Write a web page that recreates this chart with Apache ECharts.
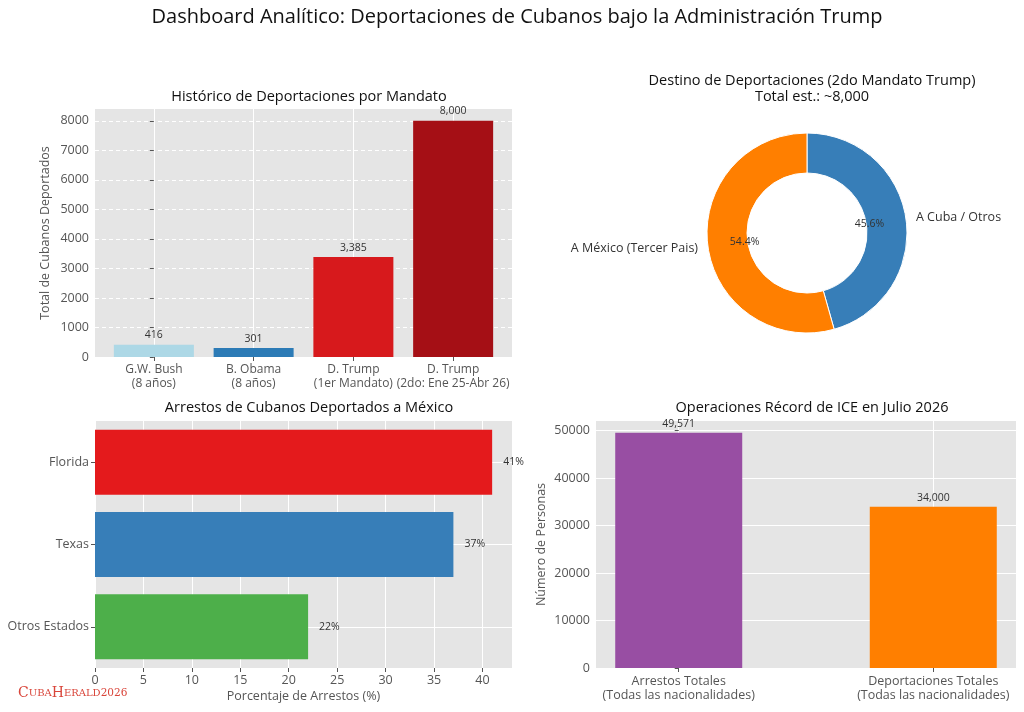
<!DOCTYPE html>
<html>
<head>
<meta charset="utf-8">
<script src="https://cdn.jsdelivr.net/npm/echarts@6/dist/echarts.min.js"></script>
<style>
  html, body { margin: 0; padding: 0; background: #fff; }
  #main { width: 1024px; height: 712px; }
</style>
</head>
<body>
<div id="main"></div>
<script>
// historico por mandato
var periodos = ['G.W. Bush\n(8 años)', 'B. Obama\n(8 años)', 'D. Trump\n(1er Mandato)', 'D. Trump\n(2do: Ene 25-Abr 26)'];
var deportados = [416, 301, 3385, 8000];
var coloresPeriodo = ['#add8e6', '#2c7bb6', '#d7191c', '#a50f15'];
var ticksDeportados = [0, 1000, 2000, 3000, 4000, 5000, 6000, 7000, 8000];

// destino 2do mandato
var destinos = ['A Cuba / Otros', 'A México (Tercer Pais)'];
var destinoValores = [3650, 4350];
var coloresDestino = ['#377eb8', '#ff7f00'];

// arrestos por estado
var estados = ['Florida', 'Texas', 'Otros Estados'];
var arrestosPct = [41, 37, 22];
var coloresEstado = ['#e41a1c', '#377eb8', '#4daf4a'];
var ticksPct = [0, 5, 10, 15, 20, 25, 30, 35, 40];

// operaciones ICE julio 2026
var operaciones = ['Arrestos Totales\n(Todas las nacionalidades)', 'Deportaciones Totales\n(Todas las nacionalidades)'];
var operacionValores = [49571, 34000];
var coloresOperacion = ['#984ea3', '#ff7f00'];
var ticksPersonas = [0, 10000, 20000, 30000, 40000, 50000];

var FONT = '"Open Sans", Lato, sans-serif';
var chart = echarts.init(document.getElementById('main'));

function fmt(v) {
    return Number(v).toLocaleString('en-US');
}
function plain(v) {
    return String(v);
}
function ticks(vals) {
    return { show: true, length: 4, lineStyle: { color: '#555' }, customValues: vals };
}
function labels(vals, extra) {
    return Object.assign({ customValues: vals, color: '#555', fontSize: 12.5, fontFamily: FONT, margin: 6,
        formatter: plain, hideOverlap: false, interval: 0 }, extra || {});
}
var gridLine = { show: true, lineStyle: { color: '#fff', width: 1 } };
var nameStyle = { color: '#555', fontSize: 12.5, fontFamily: FONT };
var titleStyle = { fontSize: 14.5, fontWeight: 'normal', color: '#111', fontFamily: FONT };

chart.setOption({
    backgroundColor: '#fff',
    textStyle: { fontFamily: FONT },
    title: [
        { text: 'Dashboard Analítico: Deportaciones de Cubanos bajo la Administración Trump', left: 512, top: 2, textAlign: 'center',
          textStyle: { fontSize: 20, fontWeight: 'normal', color: '#111', fontFamily: FONT } },
        { text: 'Histórico de Deportaciones por Mandato', left: 304, top: 84, textAlign: 'center', textStyle: titleStyle },
        { text: 'Destino de Deportaciones (2do Mandato Trump)\nTotal est.: ~8,000', left: 807, top: 68, textAlign: 'center',
          textStyle: Object.assign({ lineHeight: 16 }, titleStyle) },
        { text: 'Arrestos de Cubanos Deportados a México', left: 304, top: 395, textAlign: 'center', textStyle: titleStyle },
        { text: 'Operaciones Récord de ICE en Julio 2026', left: 807, top: 395, textAlign: 'center', textStyle: titleStyle }
    ],
    grid: [
        { left: 95, top: 109, width: 417, height: 248, show: true, backgroundColor: '#e5e5e5', borderWidth: 0 },
        { left: 95, top: 421, width: 417, height: 247, show: true, backgroundColor: '#e5e5e5', borderWidth: 0 },
        { left: 596, top: 421, width: 420, height: 247, show: true, backgroundColor: '#e5e5e5', borderWidth: 0 }
    ],
    xAxis: [
        {
            gridIndex: 0, type: 'value', min: -0.59, max: 3.59,
            axisLine: { show: false }, axisTick: ticks([0, 1, 2, 3]),
            axisLabel: labels([0, 1, 2, 3], { lineHeight: 14, fontSize: 12, formatter: function (v) { return periodos[Math.round(v)]; } }),
            splitLine: gridLine
        },
        {
            gridIndex: 1, type: 'value', min: 0, max: 43.05,
            name: 'Porcentaje de Arrestos (%)', nameLocation: 'middle', nameGap: 22, nameTextStyle: nameStyle,
            axisLine: { show: false }, axisTick: ticks(ticksPct),
            axisLabel: labels(ticksPct),
            splitLine: gridLine
        },
        {
            gridIndex: 2, type: 'value', min: -0.325, max: 1.325,
            axisLine: { show: false }, axisTick: ticks([0, 1]),
            axisLabel: labels([0, 1], { lineHeight: 14, formatter: function (v) { return operaciones[Math.round(v)]; } }),
            splitLine: gridLine
        }
    ],
    yAxis: [
        {
            gridIndex: 0, type: 'value', min: 0, max: 8400,
            name: 'Total de Cubanos Deportados', nameLocation: 'middle', nameGap: 43, nameTextStyle: nameStyle,
            axisLine: { show: false }, axisTick: ticks(ticksDeportados),
            axisLabel: labels(ticksDeportados),
            splitLine: { show: true, lineStyle: { color: '#fff', width: 1, type: [4, 3] } }
        },
        {
            gridIndex: 1, type: 'category', data: estados, inverse: true,
            axisLine: { show: false }, axisTick: { show: true, length: 4, alignWithLabel: true, lineStyle: { color: '#555' } },
            axisLabel: { color: '#555', fontSize: 12.5, fontFamily: FONT, margin: 6 },
            splitLine: { show: false }
        },
        {
            gridIndex: 2, type: 'value', min: 0, max: 52049.55,
            name: 'Número de Personas', nameLocation: 'middle', nameGap: 48, nameTextStyle: nameStyle,
            axisLine: { show: false }, axisTick: ticks(ticksPersonas),
            axisLabel: labels(ticksPersonas),
            splitLine: gridLine
        }
    ],
    series: [
        {
            type: 'bar', xAxisIndex: 0, yAxisIndex: 0, barWidth: 80,
            data: deportados.map(function (v, i) {
                return { value: [i, v], itemStyle: { color: coloresPeriodo[i] } };
            }),
            label: { show: true, position: 'top', distance: 4, color: '#333', fontSize: 10.5, fontFamily: FONT,
                formatter: function (p) { return fmt(p.value[1]); } }
        },
        {
            type: 'bar', xAxisIndex: 1, yAxisIndex: 1, barWidth: '79%', z: 3,
            data: arrestosPct.map(function (v, i) {
                return { value: v, itemStyle: { color: coloresEstado[i] } };
            }),
            label: { show: true, position: 'right', distance: 11, color: '#333', fontSize: 10.5, fontFamily: FONT,
                formatter: '{c}%' },
            markLine: {
                silent: true, symbol: 'none', z: 1,
                label: { show: false },
                lineStyle: { color: '#fff', width: 1, type: 'solid' },
                emphasis: { disabled: true },
                data: estados.map(function (e) { return { yAxis: e }; })
            }
        },
        {
            type: 'bar', xAxisIndex: 2, yAxisIndex: 2, barWidth: 127,
            data: operacionValores.map(function (v, i) {
                return { value: [i, v], itemStyle: { color: coloresOperacion[i] } };
            }),
            label: { show: true, position: 'top', distance: 3, color: '#333', fontSize: 10.5, fontFamily: FONT,
                formatter: function (p) { return fmt(p.value[1]); } }
        },
        {
            type: 'pie', center: [807, 233], radius: [60, 100], startAngle: 90, clockwise: true,
            silent: true,
            itemStyle: { borderColor: '#fff', borderWidth: 1 },
            data: destinoValores.map(function (v, i) {
                return { name: destinos[i], value: v, itemStyle: { color: coloresDestino[i] } };
            }),
            label: { show: true, position: 'outside', color: '#333', fontSize: 12.5, fontFamily: FONT,
                formatter: '{b}', distanceToLabelLine: 0 },
            labelLine: { show: false, length: 10, length2: 0 },
            emphasis: { disabled: true }
        },
        {
            // porcentajes dentro del anillo
            type: 'pie', center: [807, 233], radius: [0, 120], startAngle: 90, clockwise: true,
            silent: true, z: 5,
            itemStyle: { color: 'rgba(0,0,0,0)' },
            data: destinoValores.map(function (v, i) {
                return { name: destinos[i], value: v };
            }),
            label: { show: true, position: 'inside', color: '#333', fontSize: 10.5, fontFamily: FONT,
                formatter: function (p) { return p.percent.toFixed(1) + '%'; } },
            labelLine: { show: false },
            emphasis: { disabled: true }
        }
    ],
    graphic: [
        {
            type: 'text', left: 18, top: 686,
            style: {
                text: '{a|C}{b|UBA}{a|H}{b|ERALD}{c|2026}',
                rich: {
                    a: { fontSize: 14, fontFamily: '"DejaVu Serif", "Liberation Serif", serif', fill: '#d9453a' },
                    b: { fontSize: 10, fontFamily: '"DejaVu Serif", "Liberation Serif", serif', fill: '#d9453a' },
                    c: { fontSize: 10.5, fontFamily: '"DejaVu Serif", "Liberation Serif", serif', fill: '#d9453a' }
                }
            }
        }
    ]
});
</script>
</body>
</html>
